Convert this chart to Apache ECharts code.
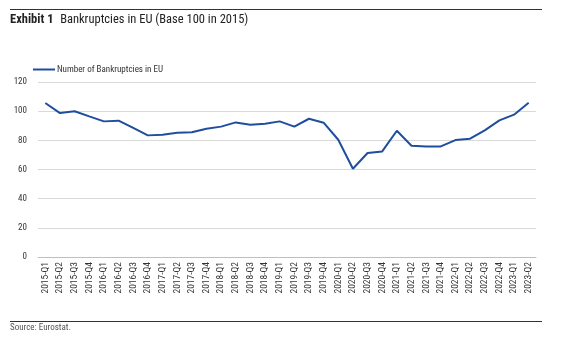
<!DOCTYPE html>
<html><head><meta charset="utf-8">
<script src="https://cdn.jsdelivr.net/npm/echarts@6/dist/echarts.min.js"></script>
<style>html,body{margin:0;padding:0;background:#fff}#c{width:572px;height:343px}</style>
</head><body><div id="c"></div>
<script>
const categories = ["2015-Q1","2015-Q2","2015-Q3","2015-Q4","2016-Q1","2016-Q2","2016-Q3","2016-Q4","2017-Q1","2017-Q2","2017-Q3","2017-Q4","2018-Q1","2018-Q2","2018-Q3","2018-Q4","2019-Q1","2019-Q2","2019-Q3","2019-Q4","2020-Q1","2020-Q2","2020-Q3","2020-Q4","2021-Q1","2021-Q2","2021-Q3","2021-Q4","2022-Q1","2022-Q2","2022-Q3","2022-Q4","2023-Q1","2023-Q2"];
const bankruptcies = [105.6,98.7,99.9,96.4,93.0,93.5,88.5,83.4,83.9,85.2,85.5,88.0,89.4,92.3,90.7,91.4,93.0,89.4,94.8,92.1,80.4,60.5,71.3,72.4,86.6,76.3,75.8,75.8,80.2,81.1,86.8,93.7,97.6,105.8];
const seriesName = "Number of Bankruptcies in EU";
const titleBold = "Exhibit 1";
const titleText = "Bankruptcies in EU (Base 100 in 2015)";
const sourceText = "Source: Eurostat.";

const FONT = "'Liberation Sans Narrow','Roboto Condensed','DejaVu Sans Condensed',Roboto,sans-serif";
const chart = echarts.init(document.getElementById('c'), null, {renderer:'canvas'});
chart.setOption({
  animation:false,
  textStyle:{fontFamily:FONT},
  graphic:[
    {type:'line', shape:{x1:10,y1:9.5,x2:542,y2:9.5}, style:{stroke:'#333',lineWidth:1.2}},
    {type:'line', shape:{x1:10,y1:321.5,x2:542,y2:321.5}, style:{stroke:'#333',lineWidth:1.2}},
    {type:'text', left:10, top:13, style:{rich:{b:{fontWeight:'bold',fontSize:12.5,fontFamily:FONT,fill:'#222'},n:{fontSize:12.5,fontFamily:FONT,fill:'#222'}}, text:'{b|'+titleBold+'}  {n|'+titleText+'}'}},
    {type:'text', left:10, top:323, style:{text:sourceText, fontSize:9, fontFamily:FONT, fill:'#555'}}
  ],
  legend:{show:true, left:33, top:65, padding:0, itemWidth:22, itemHeight:2, itemGap:5, icon:'rect',
    textStyle:{fontSize:9, color:'#333', fontFamily:FONT, padding:[0,0,0,-3]}, data:[seriesName]},
  grid:{left:38, right:36, top:82, bottom:86, containLabel:false},
  xAxis:{type:'category', data:categories, boundaryGap:true,
    axisLine:{lineStyle:{color:'#bfbfbf'}}, axisTick:{show:false},
    axisLabel:{rotate:90, interval:0, fontSize:9.5, color:'#333', margin:5, fontFamily:FONT}},
  yAxis:{type:'value', min:0, max:120, interval:20,
    axisLine:{show:false}, axisTick:{show:false},
    splitLine:{lineStyle:{color:'#d9d9d9'}},
    axisLabel:{fontSize:9, color:'#333', margin:11, fontFamily:FONT}},
  series:[{name:seriesName, type:'line', data:bankruptcies, symbol:'none',
    lineStyle:{color:'#1f4e9c', width:2}, itemStyle:{color:'#1f4e9c'}}]
});
</script></body></html>
